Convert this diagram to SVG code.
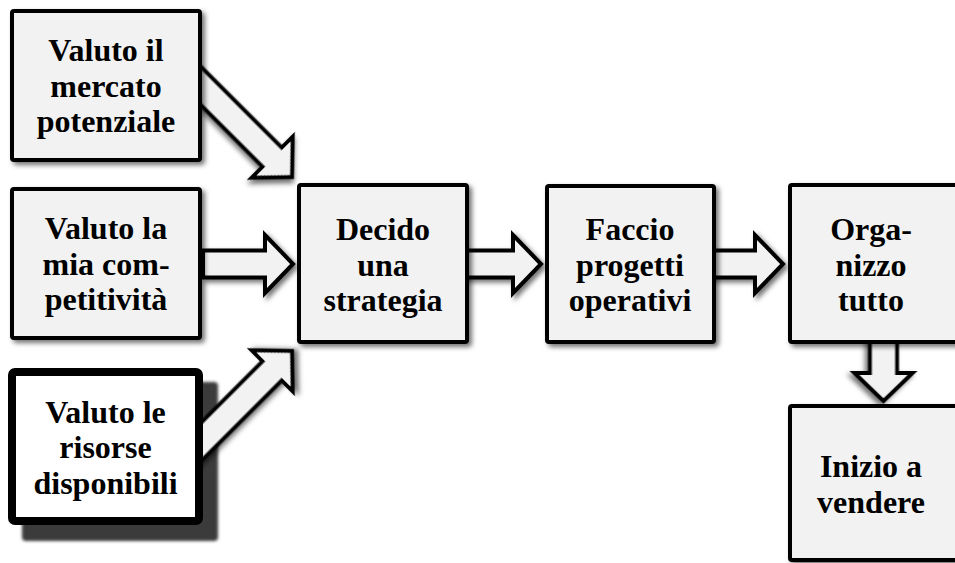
<svg xmlns="http://www.w3.org/2000/svg" width="955" height="563" viewBox="0 0 955 563">
<defs>
<filter id="sh" x="-20%" y="-20%" width="150%" height="150%">
<feDropShadow dx="3" dy="3" stdDeviation="2.5" flood-color="#000" flood-opacity="0.55"/>
</filter>
<filter id="hard" x="-10%" y="-10%" width="120%" height="120%">
<feGaussianBlur stdDeviation="1.5"/>
</filter>
<path id="arr" d="M-150,-13.5 L-28,-13.5 L-28,-29 L0,0 L-28,29 L-28,13.5 L-150,13.5 Z"/>
<path id="arrs" d="M-90,-13.5 L-28,-13.5 L-28,-29 L0,0 L-28,29 L-28,13.5 L-90,13.5 Z"/>
</defs>
<style>
.box{fill:#f2f2f2;stroke:#000;stroke-width:4;filter:url(#sh)}
.arrow{fill:#f2f2f2;stroke:#000;stroke-width:4;stroke-linejoin:miter;filter:url(#sh)}
text{font-family:"Liberation Serif","Times New Roman",serif;font-weight:bold;font-size:32px;fill:#000;text-anchor:middle}
</style>
<rect width="955" height="563" fill="#fff"/>
<g id="shadow-risorse">
<rect x="22" y="382" width="196" height="159" rx="4" fill="#3a3a3a" filter="url(#hard)"/>
</g>
<g id="connectors">
<use href="#arr" class="arrow" transform="translate(292,177) rotate(45)"/>
<use href="#arrs" class="arrow" transform="translate(293,264)"/>
<use href="#arr" class="arrow" transform="translate(292,351) rotate(-45)"/>
<use href="#arrs" class="arrow" transform="translate(541,264)"/>
<use href="#arrs" class="arrow" transform="translate(783,264)"/>
<use href="#arrs" class="arrow" transform="translate(883.5,401) rotate(90)"/>
</g>
<g id="mercato">
<rect class="box" x="12" y="11" width="188" height="149" rx="2"/>
<text x="106" y="61">Valuto il</text>
<text x="106" y="97">mercato</text>
<text x="106" y="132">potenziale</text>
</g>
<g id="competitivita">
<rect class="box" x="12" y="189" width="188" height="149" rx="2"/>
<text x="106" y="239">Valuto la</text>
<text x="106" y="275">mia com-</text>
<text x="106" y="310">petitività</text>
</g>
<g id="risorse">
<rect x="12" y="372" width="187" height="149" rx="3" fill="#fff" stroke="#000" stroke-width="8"/>
<text x="105.5" y="423">Valuto le</text>
<text x="105.5" y="458">risorse</text>
<text x="105.5" y="494">disponibili</text>
</g>
<g id="strategia">
<rect class="box" x="299" y="185" width="168" height="157" rx="2"/>
<text x="383" y="240">Decido</text>
<text x="383" y="276">una</text>
<text x="383" y="311">strategia</text>
</g>
<g id="progetti">
<rect class="box" x="547" y="186" width="167" height="156" rx="2"/>
<text x="630" y="240">Faccio</text>
<text x="630" y="276">progetti</text>
<text x="630" y="311">operativi</text>
</g>
<g id="organizzo">
<rect class="box" x="790" y="185" width="168" height="157" rx="2"/>
<text x="871" y="240">Orga-</text>
<text x="871" y="276">nizzo</text>
<text x="871" y="311">tutto</text>
</g>
<g id="vendere">
<rect class="box" x="790" y="406" width="168" height="154" rx="2"/>
<text x="871" y="477">Inizio a</text>
<text x="871" y="513">vendere</text>
</g>
</svg>
